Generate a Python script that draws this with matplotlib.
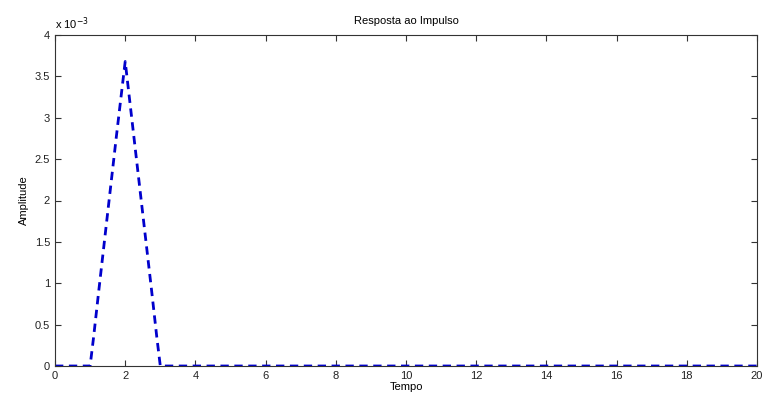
import matplotlib
matplotlib.use('Agg')
import matplotlib.pyplot as plt
from matplotlib.ticker import FuncFormatter, MultipleLocator

# impulse response
tempo = [0, 0.9, 1.0, 1.1, 1.25, 1.5, 1.75, 2.0, 2.25, 2.5, 2.75, 2.9, 3.0, 3.1, 20]
amplitude = [0, 0, 0.0, 0.00035, 0.00092, 0.00185, 0.00278, 0.00368, 0.00276, 0.00184, 0.00092, 0.00035, 0.0, 0, 0]

plt.rcParams['font.family'] = ['Liberation Sans', 'DejaVu Sans']
plt.rcParams['font.size'] = 8

fig = plt.figure(figsize=(7.66, 4.01), dpi=100)
ax = fig.add_axes([55/766, 35/401, 702/766, 331/401])

ax.plot(tempo, amplitude, '--', color='#0000cc', linewidth=2, dashes=(3, 2))

ax.set_xlim(0, 20)
ax.set_ylim(0, 0.004)
ax.xaxis.set_major_locator(MultipleLocator(2))
ax.yaxis.set_major_locator(MultipleLocator(0.0005))
ax.yaxis.set_major_formatter(FuncFormatter(lambda v, p: ('%g' % round(v * 1e3, 3))))
ax.tick_params(direction='in', top=True, right=True, length=4, width=0.8, colors='#333333', labelcolor='#222222')
for s in ax.spines.values():
    s.set_color('#333333')
    s.set_linewidth(0.8)

ax.text(0.0, 1.01, r'x 10$^{-3}$', transform=ax.transAxes, ha='left', va='bottom', fontsize=8)
ax.set_title('Resposta ao Impulso', fontsize=8, pad=8)
ax.set_xlabel('Tempo', labelpad=1)
ax.set_ylabel('Amplitude', labelpad=4)

fig.savefig('out.png', dpi=100)
